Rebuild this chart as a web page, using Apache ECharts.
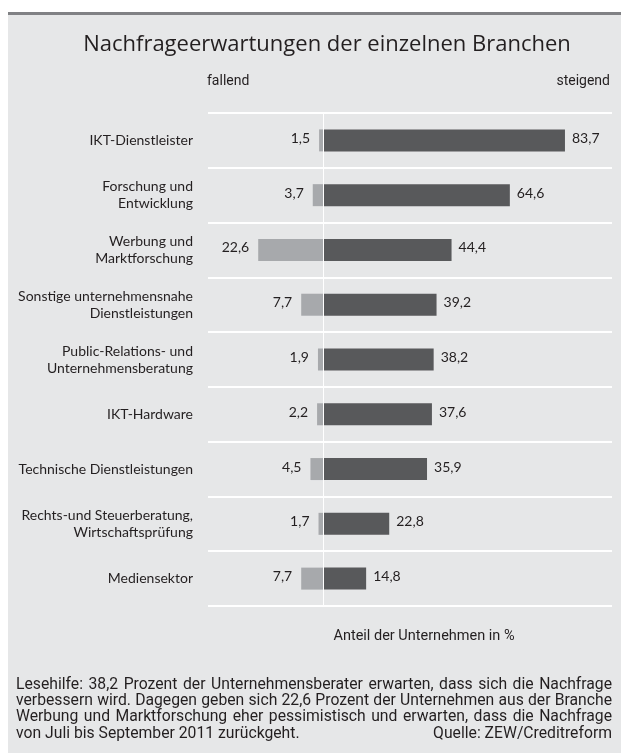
<!DOCTYPE html>
<html>
<head>
<meta charset="utf-8">
<script src="https://cdn.jsdelivr.net/npm/echarts@6/dist/echarts.min.js"></script>
<style>
html,body{margin:0;padding:0;background:#ffffff;}
#chart{width:621px;height:753px;}
</style>
</head>
<body>
<div id="chart"></div>
<script>
const categories = [
  "IKT-Dienstleister",
  "Forschung und\nEntwicklung",
  "Werbung und\nMarktforschung",
  "Sonstige unternehmensnahe\nDienstleistungen",
  "Public-Relations- und\nUnternehmensberatung",
  "IKT-Hardware",
  "Technische Dienstleistungen",
  "Rechts-und Steuerberatung,\nWirtschaftsprüfung",
  "Mediensektor"
];
const fallend = [1.5, 3.7, 22.6, 7.7, 1.9, 2.2, 4.5, 1.7, 7.7];
const steigend = [83.7, 64.6, 44.4, 39.2, 38.2, 37.6, 35.9, 22.8, 14.8];

const titleText = "Nachfrageerwartungen der einzelnen Branchen";
const axisNameText = "Anteil der Unternehmen in %";
const footerLines = [
  "Lesehilfe: 38,2 Prozent der Unternehmensberater erwarten, dass sich die Nachfrage",
  "verbessern wird. Dagegen geben sich 22,6 Prozent der Unternehmen aus der Branche",
  "Werbung und Marktforschung eher pessimistisch und erwarten, dass die Nachfrage"
];
const footerLast = "von Juli bis September 2011 zurückgeht.";
const sourceText = "Quelle: ZEW/Creditreform";

const fmt = v => Math.abs(v).toFixed(1).replace('.', ',');

const chart = echarts.init(document.getElementById('chart'), null, {renderer: 'canvas'});

const TXT = '#231f20';
const SANS = '"Open Sans"';
const LABEL_FAMILY = 'Lato';
const FOOT_FAMILY = 'Roboto';
const footLeft = 16, footRight = 612;
const footTop = 685, footStep = 16.2;

// choose footer font size so the widest line fits with normal word spacing
const cv = document.createElement('canvas').getContext('2d');
cv.font = '14px ' + FOOT_FAMILY;
const maxNat = Math.max.apply(null, footerLines.map(l => cv.measureText(l).width));
const footSize = Math.min(16.5, 14 * (footRight - footLeft) / maxNat * 0.995);
const FOOT_FONT = footSize.toFixed(2) + 'px ' + FOOT_FAMILY;
cv.font = FOOT_FONT;

const footerGraphics = [];
footerLines.forEach((line, i) => {
  const words = line.split(' ');
  const widths = words.map(w => cv.measureText(w).width);
  const total = widths.reduce((a, b) => a + b, 0);
  const gap = Math.max(2, (footRight - footLeft - total) / (words.length - 1));
  let x = footLeft;
  words.forEach((w, j) => {
    footerGraphics.push({
      type: 'text', x: x, y: footTop + i * footStep,
      style: {text: w, font: FOOT_FONT, fill: TXT, textVerticalAlign: 'middle', textAlign: 'left'}
    });
    x += widths[j] + gap;
  });
});
footerGraphics.push({
  type: 'text', x: footLeft, y: footTop + 3 * footStep,
  style: {text: footerLast, font: FOOT_FONT, fill: TXT, textVerticalAlign: 'middle', textAlign: 'left'}
});
footerGraphics.push({
  type: 'text', x: footRight, y: footTop + 3 * footStep,
  style: {text: sourceText, font: FOOT_FONT, fill: TXT, textVerticalAlign: 'middle', textAlign: 'right'}
});

const option = {
  backgroundColor: '#ffffff',
  animation: false,
  graphic: [
    {type: 'rect', shape: {x: 8, y: 13, width: 613, height: 740}, style: {fill: '#e6e7e8'}, z: -10},
    {type: 'rect', shape: {x: 8, y: 12, width: 613, height: 3}, style: {fill: '#808184'}, z: -9},
    {type: 'text', x: 327, y: 45, style: {text: titleText, font: '22px ' + SANS, fill: TXT, textAlign: 'center', textVerticalAlign: 'middle'}},
    {type: 'text', x: 207, y: 81, style: {text: 'fallend', font: '14px ' + FOOT_FAMILY, fill: TXT, textAlign: 'left', textVerticalAlign: 'middle'}},
    {type: 'text', x: 610, y: 81, style: {text: 'steigend', font: '14px ' + FOOT_FAMILY, fill: TXT, textAlign: 'right', textVerticalAlign: 'middle'}},
    {type: 'text', x: 424, y: 636, style: {text: axisNameText, font: '14.5px ' + FOOT_FAMILY, fill: TXT, textAlign: 'center', textVerticalAlign: 'middle'}}
  ].concat(footerGraphics),
  grid: {left: 208, right: 9, top: 113, bottom: 147, containLabel: false},
  xAxis: {
    type: 'value', min: -40, max: 100, interval: 20,
    axisLine: {show: false}, axisTick: {show: false}, axisLabel: {show: false}, splitLine: {show: false}
  },
  yAxis: {
    type: 'category', data: categories, inverse: true,
    axisLine: {show: false}, axisTick: {show: false},
    axisLabel: {margin: 15, fontFamily: LABEL_FAMILY, fontSize: 14, color: TXT, lineHeight: 17, align: 'right'},
    splitLine: {show: true, lineStyle: {color: '#ffffff', width: 2}}
  },
  series: [
    {
      type: 'bar', name: 'fallend',
      data: fallend.map(v => -v),
      barWidth: 22, barGap: '-100%',
      itemStyle: {color: '#a7a9ac'},
      label: {show: true, position: 'left', distance: 9, formatter: p => fmt(p.value), fontFamily: LABEL_FAMILY, fontSize: 14, color: TXT, offset: [0, -2]},
      z: 2
    },
    {
      type: 'bar', name: 'steigend',
      data: steigend,
      barWidth: 22,
      itemStyle: {color: '#58595b'},
      label: {show: true, position: 'right', distance: 7, formatter: p => fmt(p.value), fontFamily: LABEL_FAMILY, fontSize: 14, color: TXT, offset: [0, -2]},
      markLine: {
        silent: true, symbol: ['none', 'none'], label: {show: false},
        lineStyle: {color: '#ffffff', width: 1, type: 'solid'},
        data: [{xAxis: 0}]
      },
      z: 2
    }
  ]
};
chart.setOption(option);
</script>
</body>
</html>
